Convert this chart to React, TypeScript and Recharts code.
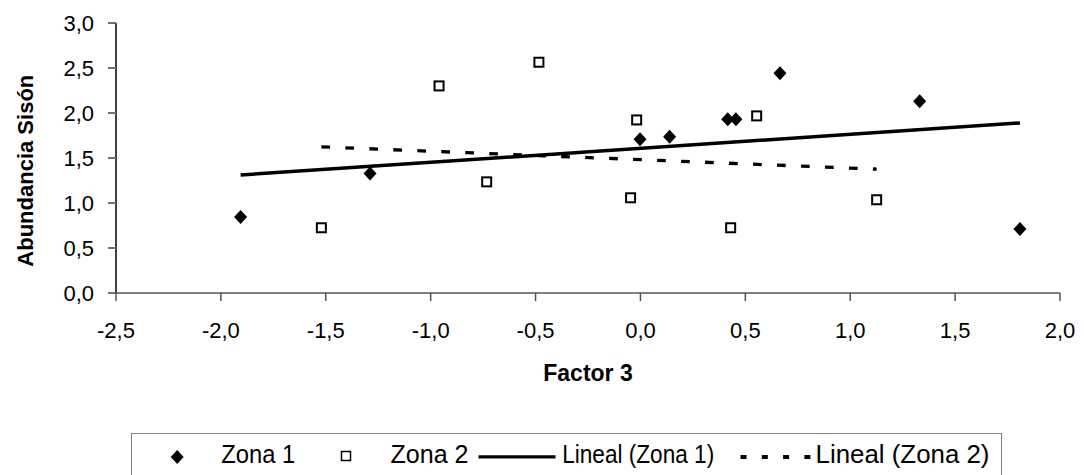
import React from 'react';
import { ScatterChart, Scatter, XAxis, YAxis, Legend } from 'recharts';

const zona1X = [-1.906, -1.289, -0.002, 0.139, 0.416, 0.455, 0.665, 1.331, 1.809];
const zona1Y = [0.844, 1.329, 1.709, 1.735, 1.931, 1.931, 2.442, 2.131, 0.71];
const zona2X = [-1.521, -0.96, -0.484, -0.733, -0.018, -0.047, 0.43, 0.554, 1.126];
const zona2Y = [0.725, 2.301, 2.564, 1.235, 1.923, 1.058, 0.725, 1.968, 1.036];
const trend1X = [-1.906, 1.809];
const trend1Y = [1.311, 1.889];
const trend2X = [-1.521, 1.126];
const trend2Y = [1.624, 1.376];
const xTicks = [-2.5, -2, -1.5, -1, -0.5, 0, 0.5, 1, 1.5, 2];
const yTicks = [0, 0.5, 1, 1.5, 2, 2.5, 3];
const seriesNames = ['Zona 1', 'Zona 2', 'Lineal (Zona 1)', 'Lineal (Zona 2)'];
const xTitle = 'Factor 3';
const yTitle = 'Abundancia Sisón';

const toPts = (xs: number[], ys: number[]) => xs.map((x, i) => ({ x, y: ys[i] }));
const zona1 = toPts(zona1X, zona1Y);
const zona2 = toPts(zona2X, zona2Y);
const trend1 = toPts(trend1X, trend1Y);
const trend2 = toPts(trend2X, trend2Y);

const FONT = '"Liberation Sans", Arial, sans-serif';
const fmt = (v: number) => v.toFixed(1).replace('.', ',');

const Diamond = (props: any) => {
  const { cx, cy } = props;
  return (
    <polygon
      points={`${cx},${cy - 7} ${cx + 6.5},${cy} ${cx},${cy + 7} ${cx - 6.5},${cy}`}
      fill="#000"
    />
  );
};

const Square = (props: any) => {
  const { cx, cy } = props;
  return <rect x={cx - 4.5} y={cy - 4.5} width={9} height={9} fill="#fff" stroke="#000" strokeWidth={2} />;
};

const NoShape = () => <g />;

const legendText = (x: number, len: number, s: string) => (
  <text
    x={x}
    y={30}
    fontSize={26}
    fontFamily={FONT}
    fill="#000"
    textLength={len}
    lengthAdjust="spacingAndGlyphs"
  >
    {s}
  </text>
);

const renderLegend = () => (
  <div
    style={{
      width: 871,
      height: 43,
      borderTop: '1px solid #808080',
      borderLeft: '1px solid #808080',
      borderRight: '1px solid #808080',
      boxSizing: 'border-box',
      background: '#fff',
      position: 'relative',
    }}
  >
    <svg width={871} height={43} style={{ position: 'absolute', left: -1, top: -1 }}>
      <polygon points="46.2,17 52.7,24 46.2,31 39.7,24" fill="#000" />
      {legendText(90.2, 74, seriesNames[0])}
      <rect x={210.5} y={18.5} width={9} height={9} fill="#fff" stroke="#000" strokeWidth={1.5} />
      {legendText(259.5, 78, seriesNames[1])}
      <line x1={347.5} y1={23.8} x2={424.5} y2={23.8} stroke="#000" strokeWidth={3.3} />
      {legendText(431.2, 152, seriesNames[2])}
      <line x1={609.5} y1={24} x2={679.5} y2={24} stroke="#000" strokeWidth={4} strokeDasharray="6 15.3" />
      {legendText(684.5, 174, seriesNames[3])}
    </svg>
  </div>
);

const YLabel = (props: any) => {
  const vb = props.viewBox || { x: 0, y: 23, width: 116, height: 270 };
  const x = vb.x + 33;
  const y = vb.y + vb.height / 2 + 12.7;
  return (
    <text
      x={x}
      y={y}
      transform={`rotate(-90 ${x} ${y})`}
      textAnchor="middle"
      fontSize={22}
      fontWeight="bold"
      fontFamily={FONT}
      fill="#000"
    >
      {yTitle}
    </text>
  );
};

const XLabel = (props: any) => {
  const vb = props.viewBox || { x: 116, y: 293, width: 944, height: 100 };
  const x = vb.x + vb.width / 2;
  const y = vb.y + 88;
  return (
    <text x={x} y={y} textAnchor="middle" fontSize={23} fontWeight="bold" fontFamily={FONT} fill="#000">
      {xTitle}
    </text>
  );
};

export default function App() {
  return (
    <div style={{ position: 'absolute', left: 0, top: 0, background: '#fff' }}>
      <ScatterChart width={1084} height={475} margin={{ top: 23, right: 24, bottom: 82, left: 0 }}>
        <XAxis
          type="number"
          dataKey="x"
          domain={[-2.5, 2]}
          ticks={xTicks}
          tickFormatter={fmt}
          interval={0}
          height={100}
          tickSize={8}
          tickMargin={21}
          axisLine={{ stroke: '#808080', strokeWidth: 2 }}
          tickLine={{ stroke: '#505050', strokeWidth: 1.5 }}
          tick={{ fontSize: 22, fill: '#000', fontFamily: FONT }}
          label={<XLabel />}
          allowDataOverflow
        />
        <YAxis
          type="number"
          dataKey="y"
          domain={[0, 3]}
          ticks={yTicks}
          tickFormatter={fmt}
          interval={0}
          width={116}
          tickSize={8}
          tickMargin={14}
          axisLine={{ stroke: '#000', strokeWidth: 1.5 }}
          tickLine={{ stroke: '#707070', strokeWidth: 2 }}
          tick={{ fontSize: 22, fill: '#000', fontFamily: FONT }}
          label={<YLabel />}
          allowDataOverflow
        />
        <Legend
          content={renderLegend}
          layout="horizontal"
          verticalAlign="middle"
          align="center"
          wrapperStyle={{ left: 130.5, top: 432.5, width: 871, height: 43 }}
        />
        <Scatter
          name={seriesNames[2]}
          data={trend1}
          line={{ stroke: '#000', strokeWidth: 3.5 }}
          shape={NoShape}
          isAnimationActive={false}
        />
        <Scatter
          name={seriesNames[3]}
          data={trend2}
          line={{ stroke: '#000', strokeWidth: 3.3, strokeDasharray: '8.7 15.3' }}
          shape={NoShape}
          isAnimationActive={false}
        />
        <Scatter name={seriesNames[0]} data={zona1} shape={Diamond} isAnimationActive={false} />
        <Scatter name={seriesNames[1]} data={zona2} shape={Square} isAnimationActive={false} />
      </ScatterChart>
    </div>
  );
}
